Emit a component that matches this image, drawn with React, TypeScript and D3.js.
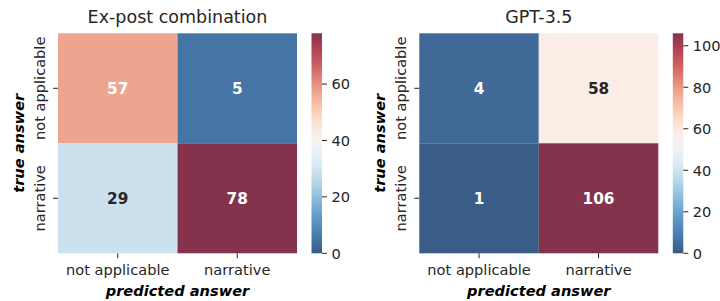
import React from "react";
import * as d3 from "d3";

// chart data
const categories = ["not applicable", "narrative"];
const expostValues = [
  [57, 5],
  [29, 78],
];
const gptValues = [
  [4, 58],
  [1, 106],
];
const expostTicks = [0, 20, 40, 60];
const gptTicks = [0, 20, 40, 60, 80, 100];

const FONT = "DejaVu Sans, sans-serif";
const TEXT = "#262626";

// RdBu_r, drawn with alpha 0.8 over white
const rawRdbuR = (t: number) => d3.rgb(d3.interpolateRdBu(1 - t));
const blend = (rgb: d3.RGBColor) => {
  const a = 0.8;
  return d3.rgb(rgb.r * a + 255 * (1 - a), rgb.g * a + 255 * (1 - a), rgb.b * a + 255 * (1 - a));
};
const rdbuR = (t: number) => blend(rawRdbuR(t));

const luminance = (c: d3.RGBColor) => {
  const f = (v: number) => {
    const s = v / 255;
    return s <= 0.03928 ? s / 12.92 : Math.pow((s + 0.055) / 1.055, 2.4);
  };
  return 0.2126 * f(c.r) + 0.7152 * f(c.g) + 0.0722 * f(c.b);
};

type PanelProps = {
  id: string;
  title: string;
  values: number[][];
  ticks: number[];
  left: number;
  ylabelX: number;
  ytickX: number;
};

const top = 33.3;
const bottom = 253.3;
const mapWidth = 239;
const cbGap = 14.5;
const cbWidth = 10.5;

function Panel({ id, title, values, ticks, left, ylabelX, ytickX }: PanelProps) {
  const right = left + mapWidth;
  const x = d3.scaleBand().domain(categories).range([left, right]);
  const y = d3.scaleBand().domain(categories).range([top, bottom]);
  const vmax = d3.max(values.flat()) as number;
  const color = d3.scaleLinear().domain([0, vmax]).range([0, 1]);
  const cbScale = d3.scaleLinear().domain([0, vmax]).range([bottom, top]);
  const cbX = right + cbGap;
  const cx = (left + right) / 2;
  const stops = d3.range(0, 1.0001, 0.02);

  return (
    <g>
      <defs>
        <linearGradient id={id} x1="0" y1="1" x2="0" y2="0">
          {stops.map((s) => (
            <stop key={s} offset={s} stopColor={rdbuR(s).formatHex()} />
          ))}
        </linearGradient>
      </defs>
      <text x={cx} y={22.8} textAnchor="middle" fontSize={17.5} fill={TEXT}>
        {title}
      </text>
      {values.map((row, i) =>
        row.map((v, j) => {
          const t = color(v);
          const c = rdbuR(t);
          return (
            <g key={`${i}-${j}`}>
              <rect
                x={x(categories[j])}
                y={y(categories[i])}
                width={x.bandwidth()}
                height={y.bandwidth()}
                fill={c.formatHex()}
              />
              <text
                x={(x(categories[j]) as number) + x.bandwidth() / 2}
                y={(y(categories[i]) as number) + y.bandwidth() / 2}
                dy="0.36em"
                textAnchor="middle"
                fontSize={15.3}
                fontWeight="bold"
                fill={luminance(rawRdbuR(t)) > 0.408 ? TEXT : "#ffffff"}
              >
                {v}
              </text>
            </g>
          );
        })
      )}
      {categories.map((c) => {
        const px = (x(c) as number) + x.bandwidth() / 2;
        const py = (y(c) as number) + y.bandwidth() / 2;
        return (
          <g key={c}>
            <line x1={px} x2={px} y1={bottom} y2={bottom + 5} stroke={TEXT} strokeWidth={1} />
            <text x={px} y={275} textAnchor="middle" fontSize={14.6} fill={TEXT}>
              {c}
            </text>
            <line x1={left - 5} x2={left} y1={py} y2={py} stroke={TEXT} strokeWidth={1} />
            <text
              transform={`translate(${ytickX},${py}) rotate(-90)`}
              textAnchor="middle"
              fontSize={14.6}
              fill={TEXT}
            >
              {c}
            </text>
          </g>
        );
      })}
      <text
        x={cx}
        y={296}
        textAnchor="middle"
        fontSize={14.6}
        fontWeight="bold"
        fontStyle="italic"
        fill="#000"
      >
        predicted answer
      </text>
      <text
        transform={`translate(${ylabelX},${(top + bottom) / 2}) rotate(-90)`}
        textAnchor="middle"
        fontSize={14.6}
        fontWeight="bold"
        fontStyle="italic"
        fill="#000"
      >
        true answer
      </text>
      <rect x={cbX} y={top} width={cbWidth} height={bottom - top} fill={`url(#${id})`} />
      {ticks.map((t) => (
        <g key={t}>
          <line
            x1={cbX + cbWidth}
            x2={cbX + cbWidth + 5}
            y1={cbScale(t)}
            y2={cbScale(t)}
            stroke={TEXT}
            strokeWidth={1}
          />
          <text x={cbX + cbWidth + 9.5} y={cbScale(t)} dy="0.36em" fontSize={14.6} fill={TEXT}>
            {t}
          </text>
        </g>
      ))}
    </g>
  );
}

export default function App() {
  return (
    <svg
      width={720}
      height={301}
      style={{ position: "absolute", left: 0, top: 0, background: "#fff" }}
      fontFamily={FONT}
    >
      <rect width={720} height={301} fill="#fff" />
      <Panel
        id="cb-expost"
        title="Ex-post combination"
        values={expostValues}
        ticks={expostTicks}
        left={58}
        ylabelX={23.5}
        ytickX={44.5}
      />
      <Panel
        id="cb-gpt"
        title="GPT-3.5"
        values={gptValues}
        ticks={gptTicks}
        left={419.3}
        ylabelX={385}
        ytickX={405.5}
      />
    </svg>
  );
}
